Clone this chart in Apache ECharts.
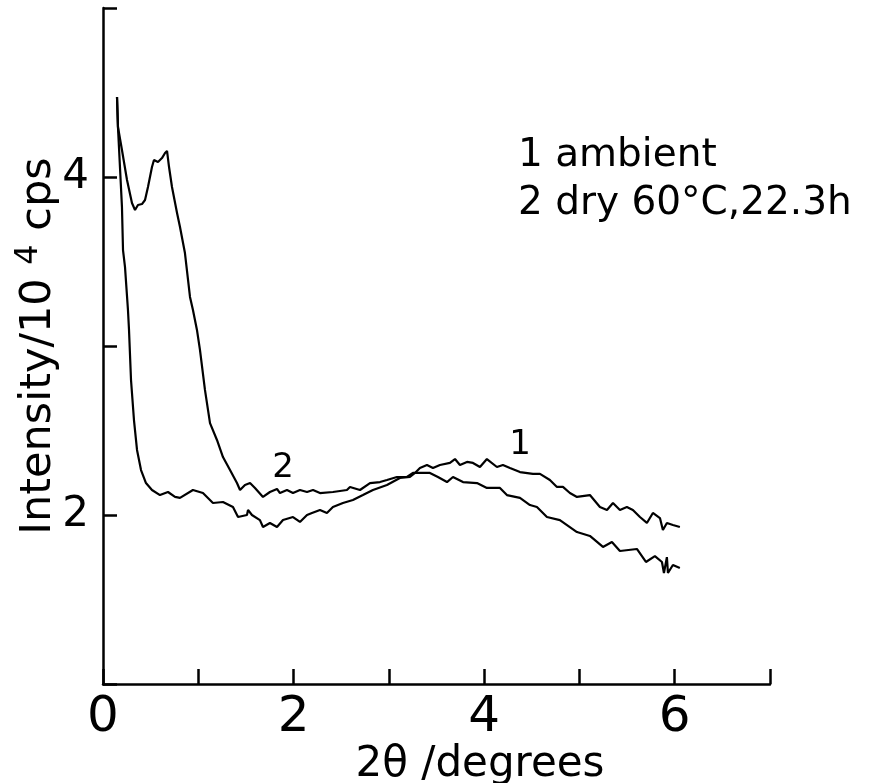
<!DOCTYPE html>
<html>
<head>
<meta charset="utf-8">
<title>X-ray diffraction intensity</title>
<script src="https://cdn.jsdelivr.net/npm/echarts@6/dist/echarts.min.js"></script>
<style>
  html, body { margin: 0; padding: 0; background: #fff; }
  #chart { width: 880px; height: 783px; }
</style>
</head>
<body>
<div id="chart"></div>
<script>
// Low-angle diffraction scans: 2θ in degrees, intensity in 10^4 cps
const ambient = [
  [0.147, 4.473], [0.157, 4.296], [0.178, 4.059], [0.199, 3.822], [0.210, 3.568],
  [0.231, 3.467], [0.262, 3.213], [0.273, 3.095], [0.294, 2.799], [0.325, 2.562],
  [0.357, 2.385], [0.399, 2.266], [0.451, 2.189], [0.514, 2.148], [0.598, 2.118],
  [0.682, 2.136], [0.756, 2.107], [0.808, 2.101], [0.944, 2.148], [1.049, 2.130],
  [1.154, 2.071], [1.259, 2.077], [1.364, 2.047], [1.417, 1.988], [1.511, 2.000],
  [1.522, 2.030], [1.563, 2.000], [1.647, 1.970], [1.679, 1.929], [1.752, 1.953],
  [1.826, 1.929], [1.889, 1.970], [1.994, 1.988], [2.067, 1.959], [2.141, 2.000],
  [2.193, 2.012], [2.277, 2.030], [2.350, 2.012], [2.413, 2.047], [2.518, 2.071],
  [2.623, 2.089], [2.728, 2.118], [2.833, 2.148], [2.980, 2.178], [3.116, 2.219],
  [3.221, 2.225], [3.274, 2.249], [3.326, 2.278], [3.400, 2.296], [3.463, 2.278],
  [3.536, 2.296], [3.641, 2.308], [3.694, 2.331], [3.746, 2.296], [3.820, 2.314],
  [3.883, 2.308], [3.956, 2.284], [4.029, 2.331], [4.134, 2.284], [4.197, 2.296],
  [4.271, 2.278], [4.376, 2.254], [4.512, 2.243], [4.586, 2.243], [4.690, 2.207],
  [4.764, 2.166], [4.827, 2.166], [4.900, 2.130], [4.974, 2.107], [5.110, 2.118],
  [5.215, 2.047], [5.289, 2.030], [5.352, 2.071], [5.425, 2.030], [5.498, 2.047],
  [5.561, 2.030], [5.635, 1.988], [5.708, 1.953], [5.771, 2.012], [5.845, 1.982],
  [5.876, 1.911], [5.918, 1.953], [5.981, 1.941], [6.054, 1.929]
];

const dried = [
  [0.147, 4.473], [0.157, 4.296], [0.199, 4.160], [0.252, 3.982], [0.304, 3.846],
  [0.336, 3.805], [0.367, 3.834], [0.409, 3.840], [0.441, 3.864], [0.472, 3.941],
  [0.514, 4.059], [0.535, 4.101], [0.577, 4.089], [0.619, 4.112], [0.651, 4.142],
  [0.672, 4.154], [0.693, 4.059], [0.724, 3.941], [0.777, 3.787], [0.808, 3.704],
  [0.860, 3.550], [0.913, 3.290], [0.944, 3.213], [0.986, 3.095], [1.018, 2.976],
  [1.070, 2.740], [1.123, 2.544], [1.196, 2.444], [1.259, 2.343], [1.333, 2.266],
  [1.406, 2.189], [1.438, 2.148], [1.490, 2.178], [1.543, 2.189], [1.595, 2.160],
  [1.679, 2.107], [1.752, 2.136], [1.826, 2.154], [1.857, 2.130], [1.931, 2.148],
  [1.994, 2.130], [2.067, 2.148], [2.141, 2.136], [2.204, 2.148], [2.277, 2.130],
  [2.413, 2.136], [2.560, 2.148], [2.592, 2.166], [2.697, 2.148], [2.802, 2.189],
  [2.907, 2.195], [2.980, 2.207], [3.085, 2.225], [3.190, 2.225], [3.253, 2.249],
  [3.431, 2.249], [3.515, 2.225], [3.610, 2.195], [3.673, 2.225], [3.778, 2.195],
  [3.925, 2.189], [4.029, 2.160], [4.166, 2.160], [4.239, 2.118], [4.376, 2.101],
  [4.481, 2.059], [4.554, 2.047], [4.659, 1.988], [4.795, 1.970], [4.974, 1.899],
  [5.110, 1.876], [5.247, 1.811], [5.341, 1.840], [5.425, 1.787], [5.603, 1.799],
  [5.698, 1.722], [5.792, 1.757], [5.866, 1.722], [5.887, 1.657], [5.918, 1.751],
  [5.929, 1.657], [5.981, 1.704], [6.054, 1.686]
];

// Curve number tags, placed in data space just above each trace
const ambientTag = [4.376, 2.414];
const driedTag = [1.889, 2.278];

// Tick values that carry a printed label
const xLabelled = [0, 2, 4, 6];
const yLabelled = [2, 4];

const legendLines = ['1 ambient', '2 dry 60°C,22.3h'];

const FONT = 'DejaVu Sans';
const INK = '#000';

const chart = echarts.init(document.getElementById('chart'), null, { renderer: 'canvas' });

const tagLabel = (txt) => ({
  show: true, position: 'inside', formatter: txt,
  fontFamily: FONT, fontSize: 34, color: INK
});

chart.setOption({
  animation: false,
  backgroundColor: '#fff',
  grid: { left: 103, right: 110, top: 8, bottom: 99, containLabel: false, outerBoundsMode: 'none' },
  xAxis: {
    type: 'value', min: 0, max: 7, interval: 1,
    axisLine: { lineStyle: { color: INK, width: 2.5 } },
    axisTick: { inside: true, length: 15, lineStyle: { color: INK, width: 2.5 } },
    splitLine: { show: false },
    axisLabel: {
      formatter: (v) => (xLabelled.includes(v) ? String(v) : ''),
      fontFamily: FONT, fontSize: 50, color: INK, margin: 9
    },
    name: '2θ /degrees',
    nameLocation: 'middle', nameGap: 60, nameMoveOverlap: false,
    nameTextStyle: { fontFamily: FONT, fontSize: 42, color: INK, padding: [0, 0, 0, 87] }
  },
  yAxis: {
    type: 'value', min: 1, max: 5, interval: 1,
    axisLine: { lineStyle: { color: INK, width: 2.5 } },
    axisTick: { inside: true, length: 14, lineStyle: { color: INK, width: 2.5 } },
    splitLine: { show: false },
    axisLabel: {
      formatter: (v) => (yLabelled.includes(v) ? String(v) : ''),
      fontFamily: FONT, fontSize: 42, color: INK, margin: 14
    },
    name: 'Intensity/10 {sup|4} cps',
    nameLocation: 'middle', nameGap: 38, nameMoveOverlap: false,
    nameTextStyle: {
      fontFamily: FONT, fontSize: 43, color: INK,
      rich: { sup: { fontFamily: FONT, fontSize: 32, color: INK, verticalAlign: 'top', lineHeight: 52 } }
    }
  },
  series: [
    {
      name: 'ambient', type: 'line', data: ambient,
      showSymbol: false, smooth: false,
      lineStyle: { color: INK, width: 2.2 },
      markPoint: {
        symbol: 'circle', symbolSize: 0,
        data: [{ coord: ambientTag }],
        label: tagLabel('1')
      }
    },
    {
      name: 'dry 60°C, 22.3h', type: 'line', data: dried,
      showSymbol: false, smooth: false,
      lineStyle: { color: INK, width: 2.2 },
      markPoint: {
        symbol: 'circle', symbolSize: 0,
        data: [{ coord: driedTag }],
        label: tagLabel('2')
      }
    }
  ],
  graphic: legendLines.map((t, i) => ({
    type: 'text', left: 518, top: 136 + i * 48,
    style: { text: t, font: '39px "' + FONT + '"', fill: INK }
  }))
});
</script>
</body>
</html>
